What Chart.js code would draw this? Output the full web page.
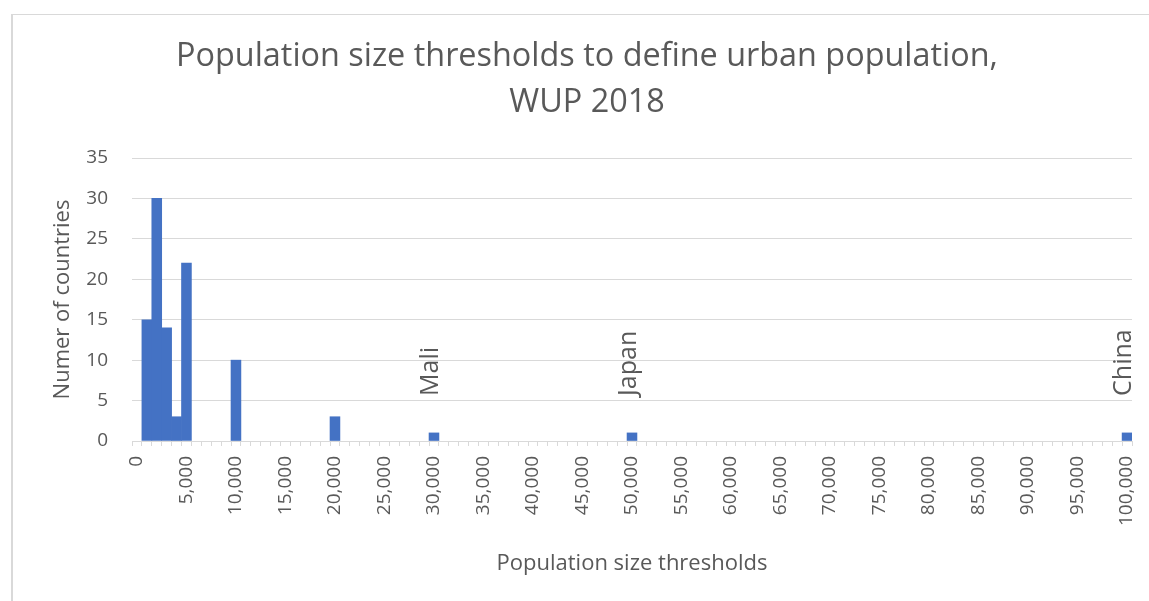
<!DOCTYPE html>
<html>
<head>
<meta charset="utf-8">
<script src="https://cdn.jsdelivr.net/npm/chart.js@4"></script>
<style>
  html, body { margin: 0; padding: 0; background: #ffffff; overflow: hidden; }
  #wrap { position: relative; width: 1149px; height: 601px; }
  #frame { position: absolute; left: 11px; top: 14px; width: 3000px; height: 3000px;
           border-left: 2px solid #d9d9d9; border-top: 1px solid #d9d9d9; pointer-events: none; }
  canvas { position: absolute; left: 0; top: 0; }
</style>
</head>
<body>
<div id="wrap">
  <div id="frame"></div>
  <canvas id="c" width="1149" height="601"></canvas>
</div>
<script>
// Category axis: population size thresholds, 0 to 100,000 in steps of 1,000
const thresholdAxis = Array.from({ length: 101 }, (_, i) => i * 1000);

// Observed bars (threshold -> number of countries)
const barThresholds = [1000, 2000, 3000, 4000, 5000, 10000, 20000, 30000, 50000, 100000];
const countryCounts = [15, 30, 14, 3, 22, 10, 3, 1, 1, 1];

// Labelled single-country thresholds
const labelledThresholds = [30000, 50000, 100000];
const labelledCountries = ['Mali', 'Japan', 'China'];

// Y axis ticks
const yMin = 0, yMax = 35, yStep = 5;

const titleLines = ['Population size thresholds to define urban population,', 'WUP 2018'];
const xTitle = 'Population size thresholds';
const yTitle = 'Numer of countries';

const FONT = "'Open Sans', 'DejaVu Sans', sans-serif";
const TEXT = '#595959';
const GRID = '#d9d9d9';
const BAR = '#4472c4';

const seriesData = thresholdAxis.map(t => {
  const k = barThresholds.indexOf(t);
  return k === -1 ? null : countryCounts[k];
});

// Chart title, centred on the whole chart frame (like the Excel original)
const frameTitlePlugin = {
  id: 'frameTitle',
  afterDraw(chart) {
    const ctx = chart.ctx;
    ctx.save();
    ctx.font = "32.4px " + FONT;
    ctx.fillStyle = TEXT;
    ctx.textAlign = 'center';
    ctx.textBaseline = 'middle';
    const cx = 587;
    titleLines.forEach((line, i) => ctx.fillText(line, cx, 57 + i * 46));
    ctx.restore();
  }
};

const countryLabelPlugin = {
  id: 'countryLabels',
  afterDatasetsDraw(chart) {
    const ctx = chart.ctx;
    const xs = chart.scales.x, ys = chart.scales.y;
    ctx.save();
    ctx.font = "25px " + FONT;
    ctx.fillStyle = TEXT;
    ctx.textAlign = 'left';
    ctx.textBaseline = 'alphabetic';
    labelledThresholds.forEach((t, i) => {
      const idx = thresholdAxis.indexOf(t);
      const px = xs.getPixelForValue(idx);
      const py = ys.getPixelForValue(seriesData[idx]);
      ctx.save();
      ctx.translate(px + 4, py - 37);
      ctx.rotate(-Math.PI / 2);
      ctx.fillText(labelledCountries[i], 0, 0);
      ctx.restore();
    });
    ctx.restore();
  }
};

new Chart(document.getElementById('c'), {
  type: 'bar',
  data: {
    labels: thresholdAxis,
    datasets: [{
      data: seriesData,
      backgroundColor: BAR,
      borderWidth: 0,
      barPercentage: 1,
      categoryPercentage: 1
    }]
  },
  options: {
    responsive: false,
    animation: false,
    events: [],
    layout: { padding: { left: 0, right: 17, top: 158, bottom: 0 } },
    plugins: {
      legend: { display: false },
      tooltip: { enabled: false },
      title: { display: false }
    },
    scales: {
      x: {
        type: 'category',
        offset: true,
        grid: { drawOnChartArea: false, drawTicks: true, tickLength: 5, offset: true, color: GRID, tickColor: GRID, lineWidth: 1 },
        border: { display: true, color: GRID, width: 1 },
        ticks: {
          autoSkip: false, maxRotation: 90, minRotation: 90, padding: 10,
          color: TEXT, font: { family: FONT, size: 19 },
          callback(value, index) {
            const v = thresholdAxis[index];
            return v % 5000 === 0 ? v.toLocaleString('en-US') : '';
          }
        },
        title: {
          display: true, text: xTitle, color: TEXT,
          font: { family: FONT, size: 22, lineHeight: 1.2 },
          padding: { top: 0, bottom: 24 }
        },
        afterFit(scale) {
          scale.height = 160;
          scale.paddingLeft = 0;
          scale.paddingRight = 0;
        }
      },
      y: {
        min: yMin, max: yMax,
        grid: { color: GRID, drawTicks: false, lineWidth: 1 },
        border: { display: false },
        ticks: { stepSize: yStep, padding: 24, color: TEXT, font: { family: FONT, size: 19 } },
        title: {
          display: true, text: yTitle, color: TEXT,
          font: { family: FONT, size: 22, lineHeight: 1.2 },
          padding: { top: 50, bottom: 0 }
        },
        afterFit(scale) {
          scale.width = 132;
          scale.paddingTop = 0;
          scale.paddingBottom = 0;
        }
      }
    }
  },
  plugins: [frameTitlePlugin, countryLabelPlugin]
});
</script>
</body>
</html>
